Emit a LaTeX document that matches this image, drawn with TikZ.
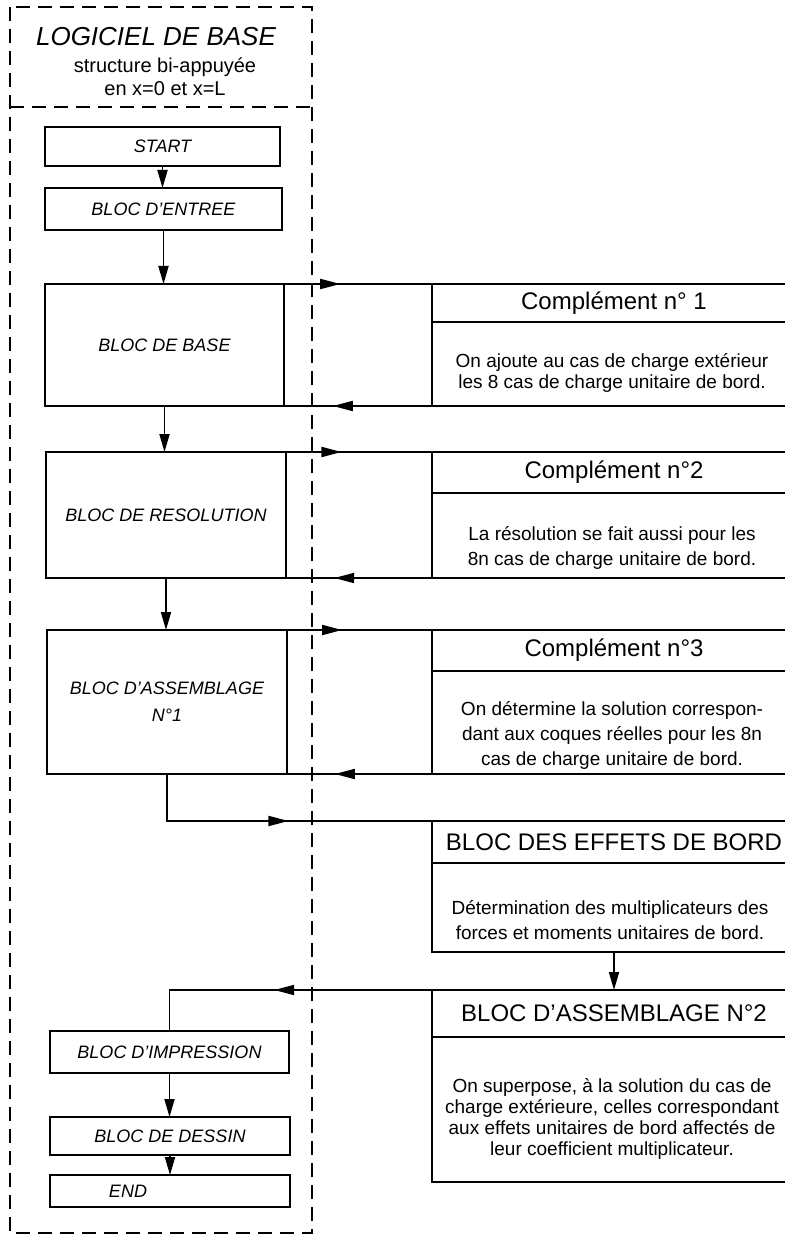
\documentclass[tikz,border=0pt]{standalone}
\usepackage{fontspec}
\setmainfont{Liberation Sans}
\usetikzlibrary{arrows.meta,decorations.markings}

\begin{document}
\begin{tikzpicture}[x=0.5pt,y=-0.5pt,line width=.9pt,
 every node/.style={outer sep=0pt,inner sep=0pt},
 blk/.style 2 args={draw,minimum width=#1pt,minimum height=#2pt,font=\fontsize{9}{11}\selectfont\itshape},
 head/.style={draw,minimum width=182pt,minimum height=#1pt,font=\fontsize{12}{14}\selectfont},
 bodybox/.style={draw,minimum width=182pt,minimum height=#1pt},
 txt/.style={align=center,font=\fontsize{9.5}{#1}\selectfont},
 flow/.style={-{Triangle[length=9pt,width=5pt]}},
 midarr/.style={postaction={decorate},decoration={markings,mark=at position #1 with {\arrow{Triangle[length=10pt,width=5pt]}}}},
 frame/.style={dashed,dash pattern=on 7pt off 4pt,line width=.8pt}]
 \useasboundingbox (0,0) rectangle (785,1235);
 \draw[frame] (10,7) rectangle (312,1233);
 \draw[frame] (10,107) -- (312,107);
 \node[font=\fontsize{13}{15}\selectfont\itshape] (titre) at (156,37) {LOGICIEL DE BASE};
 \node[align=center,font=\fontsize{10}{11.5}\selectfont] (soustitre) at (165,77) {structure bi-appuyée\\en x=0 et x=L};

 \node[blk={117.5}{19.5}] (start) at (162.5,146.5) {START};
 \node[blk={118.5}{21}] (entree) at (163.5,209) {BLOC D'ENTREE};
 \node[blk={119.5}{61}] (base) at (164.5,345) {BLOC DE BASE};
 \node[blk={120}{63}] (resol) at (166,515) {BLOC DE RESOLUTION};
 \node[blk={120}{72},align=center,font=\fontsize{9}{13.5}\selectfont\itshape] (assem) at (167,702) {BLOC D'ASSEMBLAGE\\N°1};
 \node[blk={119.5}{21}] (impr) at (169.5,1052) {BLOC D'IMPRESSION};
 \node[blk={120}{19}] (dessin) at (170,1136) {BLOC DE DESSIN};
 \node[blk={120}{16}] (fin) at (170,1191) {};
 \node[font=\fontsize{9}{11}\selectfont\itshape] (fintxt) at (128,1191) {END};

 \node[head=19] (c1h) at (614,303) {Complément n° 1};
 \node[bodybox=42] (c1b) at (614,364) {};
 \node[txt=10.3] (c1t) at (612,373) {On ajoute au cas de charge extérieur\\les 8 cas de charge unitaire de bord.};
 \node[head=20.5] (c2h) at (614,472.5) {Complément n°2};
 \node[bodybox=42.5] (c2b) at (614,535.5) {};
 \node[txt=12.5] (c2t) at (612,547.5) {La résolution se fait aussi pour les\\8n cas de charge unitaire de bord.};
 \node[head=20.5] (c3h) at (614,650.5) {Complément n°3};
 \node[bodybox=51.5] (c3b) at (614,722.5) {};
 \node[txt=12.5] (c3t) at (612,735) {On détermine la solution correspon-\\dant aux coques réelles pour les 8n\\cas de charge unitaire de bord.};
 \node[head=21] (effh) at (614,842) {BLOC DES EFFETS DE BORD};
 \node[bodybox=44.5] (effb) at (614,907.5) {};
 \node[txt=12.5] (efft) at (610,920.5) {Détermination des multiplicateurs des\\forces et moments unitaires de bord.};
 \node[head=23.5] (n2h) at (614,1013.5) {BLOC D'ASSEMBLAGE N°2};
 \node[bodybox=72.5] (n2b) at (614,1109.5) {};
 \node[txt=10.5] (n2t) at (612,1119) {On superpose, à la solution du cas de\\charge extérieure, celles correspondant\\aux effets unitaires de bord affectés de\\leur coefficient multiplicateur.};

 \draw[flow] (start.south) -- (start.south |- entree.north);
 \draw[flow] (entree.south) -- (entree.south |- base.north);
 \draw[flow] (base.south) -- (base.south |- resol.north);
 \draw[flow] (resol.south) -- (resol.south |- assem.north);
 \draw[flow] (impr.south) -- (impr.south |- dessin.north);
 \draw[flow] (dessin.south) -- (dessin.south |- fin.north);
 \draw[midarr=.38] (base.north east) -- (c1h.north west);
 \draw[midarr=.67] (c1b.south west) -- (base.south east);
 \draw[midarr=.38] (resol.north east) -- (c2h.north west);
 \draw[midarr=.67] (c2b.south west) -- (resol.south east);
 \draw[midarr=.38] (assem.north east) -- (c3h.north west);
 \draw[midarr=.67] (c3b.south west) -- (assem.south east);
 \draw[midarr=.54] (assem.south) |- (effh.north west);
 \draw[flow] (effb.south) -- (n2h.north);
 \draw[midarr=.52] (n2h.north west) -| (impr.north);
\end{tikzpicture}
\end{document}
